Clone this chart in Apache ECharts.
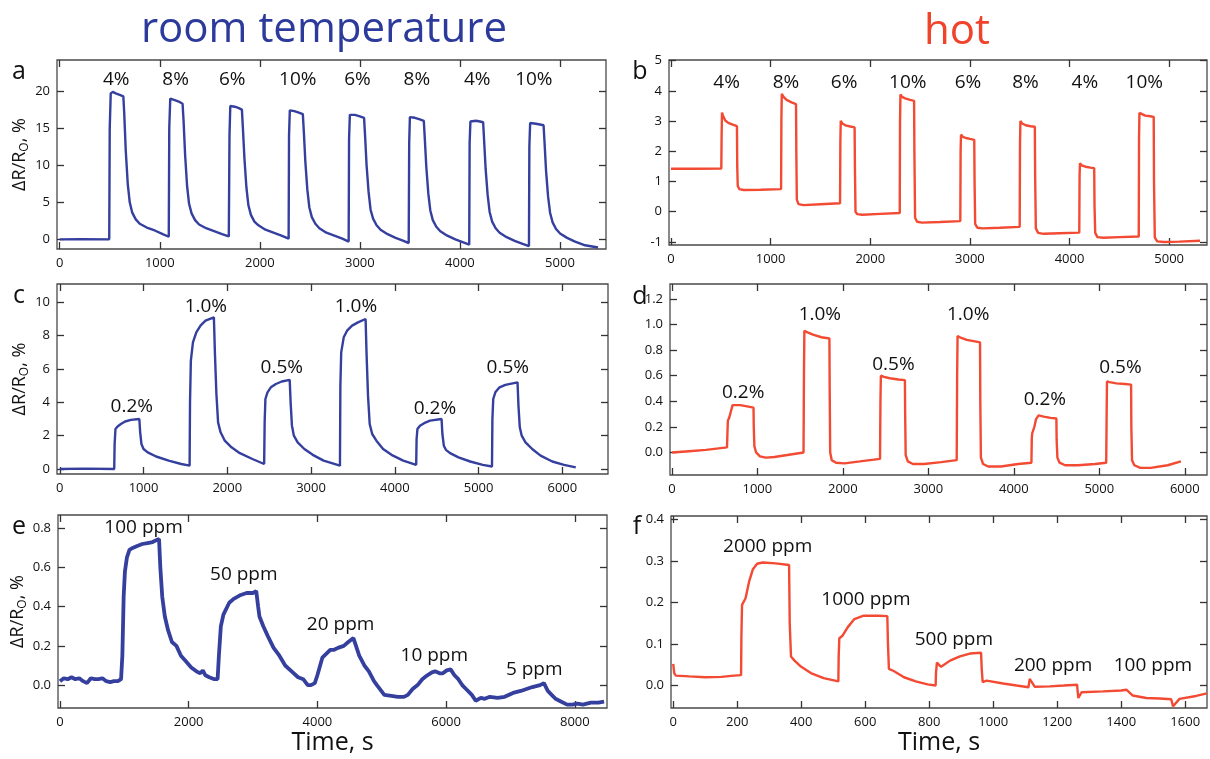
<!DOCTYPE html>
<html>
<head>
<meta charset="utf-8">
<script src="https://cdn.jsdelivr.net/npm/echarts@6/dist/echarts.min.js"></script>
<style>
  html, body { margin: 0; padding: 0; background: #fff; }
  #chart { width: 1210px; height: 759px; }
</style>
</head>
<body>
<div id="chart"></div>
<script>
// time (s), response (%) pairs
const aData = [
  [0, 0], [200, 0.02], [495, 0],
  [500, 15], [510, 19.7], [530, 19.9], [560, 19.7], [600, 19.5], [636, 19.3],
  [645, 17], [660, 12], [680, 7.5], [700, 5], [725, 3.6], [760, 2.7], [800, 2.1], [870, 1.6], [950, 1.2], [1030, 0.7], [1090, 0.35],
  [1095, 15], [1105, 19.0], [1120, 19.2], [1150, 18.8], [1190, 18.6], [1228, 18.3],
  [1238, 16], [1253, 11.5], [1273, 7.2], [1293, 4.8], [1318, 3.5], [1353, 2.6], [1393, 2.0], [1463, 1.5], [1543, 1.1], [1623, 0.7], [1690, 0.4],
  [1697, 14], [1705, 18.0], [1720, 18.2], [1750, 17.9], [1790, 17.7], [1821, 17.5],
  [1831, 15], [1846, 11], [1866, 7], [1886, 4.6], [1911, 3.3], [1946, 2.4], [1986, 1.9], [2056, 1.3], [2136, 0.9], [2216, 0.5], [2288, 0.1],
  [2292, 14], [2300, 17.4], [2315, 17.6], [2345, 17.3], [2390, 17.1], [2430, 16.9],
  [2440, 14.5], [2455, 10.5], [2475, 6.7], [2495, 4.3], [2520, 3.0], [2555, 2.1], [2595, 1.5], [2665, 0.9], [2745, 0.5], [2825, 0.1], [2888, -0.3],
  [2892, 13.5], [2900, 16.8], [2915, 17.0], [2950, 16.8], [3000, 16.6], [3042, 16.4],
  [3052, 14], [3067, 10], [3087, 6.4], [3107, 4.0], [3132, 2.8], [3167, 1.9], [3207, 1.3], [3277, 0.7], [3357, 0.2], [3437, -0.2], [3488, -0.5],
  [3493, 13], [3500, 16.5], [3515, 16.7], [3550, 16.4], [3600, 16.2], [3639, 16.0],
  [3649, 13.6], [3664, 9.8], [3684, 6.2], [3704, 3.9], [3729, 2.6], [3764, 1.7], [3804, 1.1], [3874, 0.5], [3954, 0], [4034, -0.4], [4093, -0.7],
  [4097, 13], [4105, 15.9], [4120, 16.1], [4160, 16.0], [4200, 15.9], [4232, 15.8],
  [4242, 13.3], [4257, 9.5], [4277, 6.0], [4297, 3.7], [4322, 2.4], [4357, 1.5], [4397, 0.9], [4467, 0.3], [4547, -0.2], [4627, -0.6], [4690, -0.9],
  [4694, 12.5], [4702, 15.7], [4717, 15.9], [4760, 15.6], [4800, 15.5], [4836, 15.4],
  [4846, 13], [4861, 9.2], [4881, 5.8], [4901, 3.6], [4926, 2.3], [4961, 1.4], [5001, 0.8], [5071, 0.2], [5151, -0.3], [5251, -0.8], [5380, -1.1]
];
const bData = [
  [0, 1.42], [250, 1.42], [505, 1.43],
  [508, 2.5], [512, 3.28], [525, 3.15], [545, 3.02], [575, 2.94], [620, 2.88], [662, 2.83],
  [665, 1.5], [670, 0.85], [685, 0.75], [730, 0.72], [900, 0.73], [1105, 0.75],
  [1108, 3.0], [1112, 3.9], [1130, 3.8], [1160, 3.7], [1210, 3.62], [1255, 3.56],
  [1258, 2.0], [1263, 0.4], [1280, 0.25], [1330, 0.22], [1500, 0.25], [1697, 0.28],
  [1700, 2.3], [1704, 3.01], [1720, 2.92], [1750, 2.86], [1800, 2.82], [1843, 2.79],
  [1846, 1.5], [1852, 0.0], [1870, -0.08], [1920, -0.1], [2100, -0.07], [2296, -0.04],
  [2299, 3.0], [2303, 3.88], [2320, 3.8], [2350, 3.75], [2400, 3.7], [2440, 3.67],
  [2443, 2.0], [2450, -0.2], [2470, -0.33], [2520, -0.36], [2700, -0.34], [2904, -0.31],
  [2907, 2.0], [2911, 2.55], [2930, 2.48], [2960, 2.44], [3000, 2.41], [3044, 2.38],
  [3047, 1.0], [3053, -0.4], [3075, -0.53], [3130, -0.55], [3300, -0.53], [3500, -0.5],
  [3503, 2.2], [3507, 3.0], [3525, 2.92], [3560, 2.86], [3610, 2.83], [3652, 2.81],
  [3655, 1.2], [3662, -0.55], [3685, -0.7], [3740, -0.73], [3900, -0.71], [4098, -0.69],
  [4101, 1.2], [4105, 1.6], [4125, 1.53], [4160, 1.49], [4210, 1.46], [4248, 1.44],
  [4251, 0.2], [4258, -0.7], [4280, -0.84], [4340, -0.86], [4500, -0.84], [4695, -0.82],
  [4698, 2.5], [4702, 3.27], [4720, 3.22], [4760, 3.18], [4810, 3.16], [4845, 3.14],
  [4848, 1.0], [4856, -0.85], [4880, -0.98], [4950, -1.0], [5100, -0.99], [5310, -0.96]
];
const cData = [
  [0, 0], [300, 0.02], [650, 0],
  [655, 1.5], [665, 2.4], [690, 2.55], [730, 2.7], [780, 2.85], [850, 2.95], [950, 3.0],
  [960, 2.2], [975, 1.5], [1000, 1.2], [1050, 1.0], [1150, 0.75], [1300, 0.5], [1450, 0.3], [1550, 0.2],
  [1555, 4], [1565, 6.5], [1590, 7.6], [1630, 8.2], [1680, 8.6], [1740, 8.9], [1840, 9.1],
  [1852, 7], [1870, 4.5], [1890, 2.8], [1920, 2.2], [1970, 1.7], [2050, 1.3], [2150, 0.95], [2300, 0.6], [2440, 0.3],
  [2446, 2.8], [2455, 4.2], [2480, 4.6], [2520, 4.9], [2580, 5.1], [2650, 5.25], [2745, 5.35],
  [2756, 4], [2772, 2.6], [2795, 2.0], [2840, 1.6], [2920, 1.2], [3020, 0.85], [3150, 0.5], [3345, 0.2],
  [3350, 5], [3360, 7.0], [3390, 7.9], [3430, 8.3], [3490, 8.6], [3560, 8.8], [3651, 9.0],
  [3662, 7], [3680, 4.4], [3700, 2.7], [3730, 2.1], [3780, 1.7], [3860, 1.2], [3960, 0.85], [4100, 0.5], [4255, 0.25],
  [4260, 1.8], [4270, 2.4], [4300, 2.6], [4350, 2.75], [4420, 2.9], [4558, 3.0],
  [4568, 2.1], [4585, 1.4], [4610, 1.15], [4660, 0.95], [4760, 0.7], [4900, 0.45], [5050, 0.25], [5160, 0.15],
  [5165, 3], [5175, 4.2], [5200, 4.6], [5250, 4.9], [5320, 5.05], [5465, 5.2],
  [5476, 3.8], [5492, 2.5], [5515, 2.0], [5560, 1.6], [5640, 1.2], [5740, 0.8], [5880, 0.45], [6020, 0.25], [6160, 0.1]
];
const dData = [
  [0, 0], [200, 0.01], [400, 0.02], [645, 0.04],
  [650, 0.15], [655, 0.25], [670, 0.27], [690, 0.32], [710, 0.37], [725, 0.38], [800, 0.37], [880, 0.36], [955, 0.35],
  [958, 0.2], [965, 0.05], [985, 0.0], [1030, -0.03], [1100, -0.04], [1200, -0.035], [1350, -0.02], [1540, 0.0],
  [1545, 0.6], [1550, 0.95], [1580, 0.94], [1650, 0.92], [1750, 0.9], [1843, 0.89],
  [1846, 0.5], [1852, 0.0], [1870, -0.06], [1920, -0.08], [2020, -0.085], [2200, -0.07], [2435, -0.05],
  [2440, 0.4], [2445, 0.6], [2480, 0.59], [2550, 0.58], [2650, 0.57], [2726, 0.565],
  [2729, 0.3], [2735, -0.02], [2760, -0.07], [2820, -0.09], [2950, -0.09], [3150, -0.075], [3332, -0.06],
  [3337, 0.6], [3342, 0.91], [3370, 0.9], [3450, 0.88], [3530, 0.87], [3605, 0.86],
  [3608, 0.4], [3615, -0.04], [3640, -0.09], [3700, -0.11], [3850, -0.11], [4050, -0.09], [4206, -0.08],
  [4210, 0.1], [4215, 0.15], [4240, 0.2], [4260, 0.26], [4290, 0.29], [4350, 0.28], [4430, 0.27], [4498, 0.265],
  [4501, 0.1], [4510, -0.04], [4535, -0.08], [4600, -0.1], [4750, -0.1], [4950, -0.09], [5081, -0.08],
  [5086, 0.3], [5090, 0.555], [5120, 0.55], [5200, 0.54], [5300, 0.535], [5372, 0.53],
  [5375, 0.2], [5383, -0.06], [5410, -0.1], [5480, -0.12], [5600, -0.12], [5800, -0.1], [5955, -0.07]
];
const eData = [
  [0, 0.02], [60, 0.035], [120, 0.03], [180, 0.04], [240, 0.03], [300, 0.035], [360, 0.02], [420, 0.01], [480, 0.035],
  [540, 0.03], [600, 0.03], [660, 0.035], [720, 0.02], [780, 0.015], [840, 0.02], [900, 0.02], [950, 0.03],
  [970, 0.15], [990, 0.45], [1010, 0.58], [1040, 0.65], [1080, 0.69], [1130, 0.7], [1200, 0.71], [1280, 0.72],
  [1360, 0.725], [1440, 0.73], [1500, 0.74], [1540, 0.745],
  [1560, 0.6], [1590, 0.45], [1630, 0.35], [1680, 0.28], [1740, 0.22], [1810, 0.2], [1880, 0.15], [1960, 0.12],
  [2040, 0.09], [2120, 0.07], [2180, 0.06], [2220, 0.075], [2260, 0.05], [2320, 0.04], [2400, 0.03], [2450, 0.03],
  [2470, 0.15], [2500, 0.3], [2540, 0.36], [2630, 0.42], [2700, 0.44], [2810, 0.46], [2900, 0.47], [3000, 0.47], [3050, 0.48],
  [3080, 0.4], [3100, 0.35], [3160, 0.3], [3230, 0.25], [3320, 0.19], [3410, 0.15], [3500, 0.1], [3600, 0.07],
  [3700, 0.04], [3780, 0.03], [3850, 0.0], [3900, 0.0], [3960, 0.01],
  [4000, 0.05], [4077, 0.14], [4200, 0.18], [4260, 0.18], [4320, 0.19], [4410, 0.2], [4480, 0.22], [4560, 0.24],
  [4600, 0.2], [4650, 0.15], [4730, 0.1], [4800, 0.07], [4880, 0.02], [4925, 0.0], [5040, -0.05], [5150, -0.055],
  [5250, -0.06], [5345, -0.06], [5406, -0.05],
  [5480, -0.02], [5557, 0.0], [5630, 0.03], [5708, 0.05], [5780, 0.065], [5830, 0.07], [5900, 0.06], [5950, 0.06], [6010, 0.075], [6070, 0.08],
  [6130, 0.05], [6190, 0.03], [6250, 0.0], [6310, -0.02], [6400, -0.05], [6460, -0.08], [6540, -0.065], [6600, -0.07],
  [6680, -0.06], [6800, -0.065], [6910, -0.06], [7040, -0.04],
  [7160, -0.03], [7250, -0.02], [7340, -0.01], [7460, 0.0], [7520, 0.01],
  [7580, -0.03], [7640, -0.05], [7700, -0.07], [7760, -0.08], [7880, -0.1], [7960, -0.1], [8040, -0.095], [8124, -0.1],
  [8250, -0.09], [8365, -0.09], [8455, -0.085]
];
const fData = [
  [0, 0.052], [3, 0.03], [8, 0.024], [50, 0.022], [100, 0.02], [150, 0.021], [190, 0.024], [212, 0.025],
  [213, 0.12], [215, 0.194], [226, 0.21], [237, 0.25], [249, 0.28], [262, 0.293], [280, 0.296], [320, 0.294], [362, 0.29],
  [364, 0.15], [368, 0.07], [379, 0.06], [400, 0.045], [430, 0.03], [470, 0.018], [516, 0.01],
  [517, 0.07], [519, 0.114], [529, 0.12], [545, 0.14], [566, 0.16], [595, 0.168], [640, 0.168], [669, 0.167],
  [671, 0.1], [674, 0.04], [689, 0.035], [721, 0.02], [758, 0.01], [795, 0.003], [820, 0.0],
  [821, 0.03], [824, 0.055], [837, 0.045], [865, 0.06], [896, 0.07], [927, 0.077], [962, 0.079],
  [964, 0.04], [967, 0.008], [979, 0.012], [1031, 0.005], [1073, 0.0], [1110, -0.004],
  [1114, 0.016], [1130, -0.003], [1177, -0.002], [1220, 0.0], [1262, 0.002],
  [1264, -0.015], [1266, -0.03], [1276, -0.016], [1343, -0.014], [1400, -0.012], [1416, -0.01], [1420, -0.007],
  [1436, -0.024], [1478, -0.03], [1520, -0.031], [1556, -0.033],
  [1562, -0.05], [1582, -0.032], [1634, -0.025], [1668, -0.019]
];

// concentration labels: [time, response, text]
const aNotes = [[565, 21.6, '4%'], [1158, 21.6, '8%'], [1724, 21.6, '6%'], [2379, 21.6, '10%'], [2976, 21.6, '6%'], [3569, 21.6, '8%'], [4173, 21.6, '4%'], [4739, 21.6, '10%']];
const bNotes = [[558, 4.28, '4%'], [1154, 4.28, '8%'], [1738, 4.28, '6%'], [2377, 4.28, '10%'], [2981, 4.28, '6%'], [3558, 4.28, '8%'], [4154, 4.28, '4%'], [4750, 4.28, '10%']];
const cNotes = [[860, 3.72, '0.2%'], [1744, 9.76, '1.0%'], [2651, 6.1, '0.5%'], [3535, 9.76, '1.0%'], [4479, 3.62, '0.2%'], [5349, 6.1, '0.5%']];
const dNotes = [[834, 0.47, '0.2%'], [1731, 1.075, '1.0%'], [2592, 0.686, '0.5%'], [3466, 1.075, '1.0%'], [4363, 0.41, '0.2%'], [5247, 0.66, '0.5%']];
const eNotes = [[1299, 0.805, '100 ppm'], [2857, 0.562, '50 ppm'], [4361, 0.311, '20 ppm'], [5817, 0.153, '10 ppm'], [7369, 0.077, '5 ppm']];
const fNotes = [[295, 0.334, '2000 ppm'], [602, 0.206, '1000 ppm'], [877, 0.11, '500 ppm'], [1187, 0.047, '200 ppm'], [1499, 0.047, '100 ppm']];

// axis ticks
const aXTicks = [0, 1000, 2000, 3000, 4000, 5000];
const aYTicks = [0, 5, 10, 15, 20];
const bYTicks = [-1, 0, 1, 2, 3, 4, 5];
const cXTicks = [0, 1000, 2000, 3000, 4000, 5000, 6000];
const cYTicks = [0, 2, 4, 6, 8, 10];
const dYTicks = [0, 0.2, 0.4, 0.6, 0.8, 1.0, 1.2];
const eXTicks = [0, 2000, 4000, 6000, 8000];
const eYTicks = [0, 0.2, 0.4, 0.6, 0.8];
const fXTicks = [0, 200, 400, 600, 800, 1000, 1200, 1400, 1600];
const fYTicks = [0, 0.1, 0.2, 0.3, 0.4];

const BLUE = '#343f9e';
const RED = '#f24a33';
const TXT = '#111';
const FONT = 'Open Sans';

const panels = [
  { box: [57, 60, 549, 189], x: [-27, 5460], y: [-1.3, 24.2], xt: aXTicks, yt: aYTicks, dec: 0, data: aData, notes: aNotes, color: BLUE, yName: true },
  { box: [669, 60, 538, 185], x: [-20, 5380], y: [-1.1, 5.02], xt: aXTicks, yt: bYTicks, dec: 0, data: bData, notes: bNotes, color: RED },
  { box: [57, 284, 551, 190], x: [-33, 6545], y: [-0.3, 11.1], xt: cXTicks, yt: cYTicks, dec: 0, data: cData, notes: cNotes, color: BLUE, yName: true },
  { box: [670, 284, 537, 191], x: [-22, 6260], y: [-0.176, 1.316], xt: cXTicks, yt: dYTicks, dec: 1, data: dData, notes: dNotes, color: RED },
  { box: [58, 515, 549, 193], x: [-30, 8500], y: [-0.117, 0.868], xt: eXTicks, yt: eYTicks, dec: 1, data: eData, notes: eNotes, color: BLUE, yName: true, xName: true, width: 3.8 },
  { box: [671, 516, 536, 192], x: [-7, 1668], y: [-0.054, 0.408], xt: fXTicks, yt: fYTicks, dec: 1, data: fData, notes: fNotes, color: RED, xName: true }
];

const grids = [];
const xAxes = [];
const yAxes = [];
const series = [];

panels.forEach((p, i) => {
  grids.push({
    left: p.box[0], top: p.box[1], width: p.box[2], height: p.box[3],
    show: true, borderColor: '#4a4a4a', borderWidth: 1.3, backgroundColor: 'transparent'
  });
  const tickStyle = { show: true, inside: true, length: 7, lineStyle: { color: '#333', width: 1.3 } };
  const noLine = { show: false, onZero: false };
  xAxes.push({
    gridIndex: i, type: 'value', min: p.x[0], max: p.x[1], position: 'bottom',
    axisLine: noLine, splitLine: { show: false },
    axisTick: Object.assign({ customValues: p.xt }, tickStyle),
    axisLabel: { customValues: p.xt, color: TXT, fontSize: 13, fontFamily: FONT, margin: 8, formatter: v => String(v) },
    name: p.xName ? 'Time, s' : '', nameLocation: 'middle', nameGap: 21,
    nameTextStyle: { fontSize: 25, color: TXT, fontFamily: FONT }
  });
  xAxes.push({
    gridIndex: i, type: 'value', min: p.x[0], max: p.x[1], position: 'top',
    axisLine: noLine, splitLine: { show: false },
    axisTick: Object.assign({ customValues: p.xt }, tickStyle),
    axisLabel: { show: false }
  });
  yAxes.push({
    gridIndex: i, type: 'value', min: p.y[0], max: p.y[1], position: 'left',
    axisLine: noLine, splitLine: { show: false },
    axisTick: Object.assign({ customValues: p.yt }, tickStyle),
    axisLabel: {
      customValues: p.yt, color: TXT, fontSize: 13, fontFamily: FONT, margin: 7,
      formatter: v => v.toFixed(p.dec)
    },
    name: p.yName ? '{n|ΔR/R}{s|O}{n|, %}' : '', nameLocation: 'middle', nameGap: 26,
    nameTextStyle: {
      color: TXT, fontFamily: FONT,
      rich: {
        n: { fontSize: 18, color: TXT, fontFamily: FONT, lineHeight: 22 },
        s: { fontSize: 12, color: TXT, fontFamily: FONT, lineHeight: 22, verticalAlign: 'bottom', padding: [8, 0, 0, 0] }
      }
    }
  });
  yAxes.push({
    gridIndex: i, type: 'value', min: p.y[0], max: p.y[1], position: 'right',
    axisLine: noLine, splitLine: { show: false },
    axisTick: Object.assign({ customValues: p.yt }, tickStyle),
    axisLabel: { show: false }
  });
  series.push({
    type: 'line', xAxisIndex: 2 * i, yAxisIndex: 2 * i,
    data: p.data, showSymbol: false, smooth: false,
    lineStyle: { color: p.color, width: p.width || 2.4 },
    clip: true
  });
  series.push({
    type: 'scatter', xAxisIndex: 2 * i, yAxisIndex: 2 * i,
    symbolSize: 0,
    itemStyle: { opacity: 1 },
    data: p.notes.map(n => ({ value: [n[0], n[1]], name: n[2] })),
    label: {
      show: true, position: 'inside', formatter: q => q.name, opacity: 1,
      color: TXT, fontSize: 19, fontFamily: FONT, textBorderWidth: 0
    }
  });
});

const letters = [['a', 19, 72], ['b', 640, 72], ['c', 19, 296], ['d', 640, 297], ['e', 19, 527], ['f', 637, 527]];
const graphic = letters.map(l => ({
  type: 'text', x: l[1], y: l[2],
  style: { text: l[0], fontSize: 25, fill: TXT, fontFamily: FONT, textAlign: 'center', textVerticalAlign: 'middle' }
}));
graphic.push({
  type: 'text', x: 324, y: 30,
  style: { text: 'room temperature', fontSize: 42, fill: '#2c3a9c', fontFamily: FONT, textAlign: 'center', textVerticalAlign: 'middle' }
});
graphic.push({
  type: 'text', x: 957, y: 32,
  style: { text: 'hot', fontSize: 42, fill: '#f0432c', fontFamily: FONT, textAlign: 'center', textVerticalAlign: 'middle' }
});

const myChart = echarts.init(document.getElementById('chart'));
const option = {
  animation: false,
  backgroundColor: '#fff',
  grid: grids,
  xAxis: xAxes,
  yAxis: yAxes,
  series: series,
  graphic: graphic
};
myChart.setOption(option);
</script>
</body>
</html>
